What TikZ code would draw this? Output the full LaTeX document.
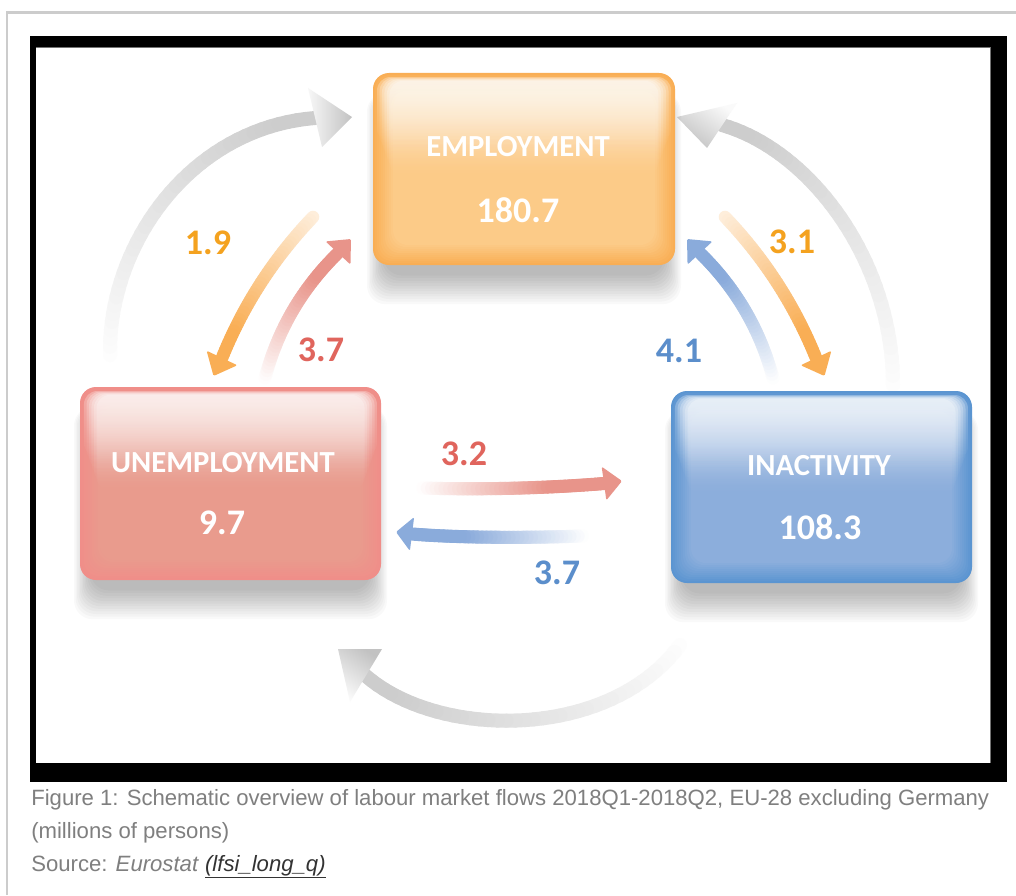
\documentclass[tikz,border=0pt]{standalone}
\usepackage{fontspec}
\setmainfont{Liberation Sans}
\newfontfamily\calfont{Carlito}
\usetikzlibrary{calc,fadings}

\definecolor{oEdge}{HTML}{F9AE55}
\definecolor{oMid}{HTML}{FCCB88}
\definecolor{rEdge}{HTML}{F08E89}
\definecolor{rMid}{HTML}{E99B8D}
\definecolor{bEdge}{HTML}{5B95D1}
\definecolor{bMid}{HTML}{8CAEDC}
\definecolor{oLab}{HTML}{F4A21F}
\definecolor{rLab}{HTML}{E0655D}
\definecolor{bLab}{HTML}{5B8ECB}
\definecolor{oArr}{HTML}{F9AE55}
\definecolor{rArr}{HTML}{E8948A}
\definecolor{bArr}{HTML}{8AABDB}
\definecolor{gArr}{HTML}{CDCDCD}
\definecolor{capgray}{HTML}{7F7F7F}
\definecolor{capdark}{HTML}{333333}
\definecolor{frameg}{HTML}{CCCCCC}

\tikzfading[name=glossfade, top color=transparent!0, bottom color=transparent!100]

% gradient shaft along a cubic curve
\newcommand\shaftgrad[8]{%
  \path (#1) .. controls (#2) and (#3) .. (#4)
    \foreach \k [evaluate=\k as \pp using \k/40] in {0,...,40} { coordinate[pos=\pp] (sg\k) };
  \foreach \k [evaluate=\k as \kn using int(\k+1)] in {0,...,39} {
    \pgfmathsetmacro\mx{min(100,#6+(100-#6)*(\k+0.5)/(40*#8))}
    \draw[line width=#7, line cap=round, draw=#5!\mx!white] (sg\k) -- (sg\kn);
  }
}
% triangular head from base centre to tip
\newcommand\headtri[4]{%
  \fill[#3, rounded corners=1pt] (#2) -- ($(#1)!#4!90:(#2)$) -- ($(#1)!#4!-90:(#2)$) -- cycle;
}
% glossy box
\newcommand\glossbox[6]{%
  \foreach \i in {1,...,12}{
    \fill[black, opacity=0.024, rounded corners=14pt] (#2+12-\i*1.5, #3+20) rectangle (#4-12+\i*1.5, #5+8+\i*2.6);
  }
  \node[draw=none, fill=#6Edge, rounded corners=12pt, minimum width=(#4-#2)*0.75pt,
        minimum height=(#5-#3)*0.75pt, inner sep=0pt, outer sep=0pt] (#1) at ({(#2+#4)/2},{(#3+#5)/2}) {};
  \foreach \i in {1,...,10}{
    \pgfmathsetmacro\mx{\i*10}
    \fill[#6Mid!\mx!#6Edge, rounded corners=11pt] (#2+\i*2, #3+\i*2) rectangle (#4-\i*2, #5-\i*2);
  }
  \foreach \j in {0,...,5}{
    \fill[white, opacity=0.27, path fading=glossfade, rounded corners=10pt]
      (#2+4+\j*2.5, #3+4+\j*0.8) rectangle (#4-4-\j*2.5, {#3+(#5-#3)*(0.36+\j*0.035)});
  }
}

\begin{document}
\begin{tikzpicture}[x=0.75pt,y=-0.75pt,
  boxtitle/.style={text=white, font=\calfont\bfseries\fontsize{23}{27}\selectfont, inner sep=0pt},
  boxnum/.style={text=white, font=\calfont\bfseries\fontsize{27}{32}\selectfont, inner sep=0pt},
  flowlab/.style={font=\calfont\bfseries\fontsize{27}{32}\selectfont, inner sep=0pt},
  captxt/.style={text=capgray, font=\fontsize{16.6}{20}\selectfont, anchor=base west, inner sep=0pt}
]
\useasboundingbox (0,0) rectangle (1016,895);
\fill[white] (0,0) rectangle (1016,895);

% outer page frame
\draw[frameg, line width=1.9pt] (7,895) -- (7,12.5) -- (1016,12.5);

% black frame
\fill[black] (30,36) rectangle (1007,782);
\fill[white] (36,48) rectangle (990,763);
\draw[black!55, line width=0.75pt] (36,48) -- (990,48) -- (990,763);

% ---------- big grey cycle arrows ----------
\coordinate (gs1) at (110,355); \coordinate (gc1a) at (108,245); \coordinate (gc1b) at (190,128); \coordinate (gb1) at (315,118);
\coordinate (gh1a) at (308,88); \coordinate (gh1t) at (352,117); \coordinate (gh1b) at (322,147);
\shaftgrad{gs1}{gc1a}{gc1b}{gb1}{gArr}{3}{10.5pt}{0.9}
\shade[left color=black!3, right color=black!24] (gh1a) -- (gh1t) -- (gh1b) -- cycle;

\coordinate (gs2) at (893,385); \coordinate (gc2a) at (893,260); \coordinate (gc2b) at (810,150); \coordinate (gb2) at (722,125);
\coordinate (gh2a) at (737,103); \coordinate (gh2t) at (677,117); \coordinate (gh2b) at (707,148);
\shaftgrad{gs2}{gc2a}{gc2b}{gb2}{gArr}{3}{10.5pt}{0.9}
\shade[top color=black!2, bottom color=black!24, shading angle=-35] (gh2a) -- (gh2t) -- (gh2b) -- cycle;

\coordinate (gs3) at (680,645); \coordinate (gc3a) at (610,740); \coordinate (gc3b) at (440,740); \coordinate (gb3) at (366,676);
\coordinate (gh3a) at (382,649); \coordinate (gh3t) at (338,649); \coordinate (gh3b) at (350,702);
\shaftgrad{gs3}{gc3a}{gc3b}{gb3}{gArr}{3}{10.5pt}{0.9}
\shade[top color=black!24, bottom color=black!2, shading angle=-35] (gh3a) -- (gh3t) -- (gh3b) -- cycle;

% ---------- boxes ----------
\glossbox{emp}{373}{73}{675}{265}{o}
\glossbox{unemp}{80}{387}{381}{580}{r}
\glossbox{inact}{671}{391}{972}{583}{b}

\node[boxtitle] (empT) at (518,147) {EMPLOYMENT};
\node[boxnum] (empN) at (518,210) {180.7};
\node[boxtitle] (unempT) at (223,463) {UNEMPLOYMENT};
\node[boxnum] (unempN) at (222,523) {9.7};
\node[boxtitle] (inactT) at (819,466) {INACTIVITY};
\node[boxnum] (inactN) at (820,527) {108.3};

% ---------- flow arrows ----------
% E -> U  (1.9)
\coordinate (s19) at (313,217); \coordinate (c19a) at (273.7,258.2); \coordinate (c19b) at (243.3,305.2);
\coordinate (b19) at (222,358); \coordinate (t19) at (213.5,376);
\shaftgrad{s19}{c19a}{c19b}{b19}{oArr}{20}{9.4pt}{0.85}
\headtri{b19}{t19}{oArr}{12.75pt}

% U -> E  (3.7)
\coordinate (s37a) at (265,378); \coordinate (c37a1) at (277.8,329.6); \coordinate (c37a2) at (302.2,288);
\coordinate (b37a) at (338,253); \coordinate (t37a) at (351,239);
\shaftgrad{s37a}{c37a1}{c37a2}{b37a}{rArr}{0}{9.4pt}{0.8}
\headtri{b37a}{t37a}{rArr}{12.75pt}

% E -> I  (3.1)
\coordinate (s31) at (725,217); \coordinate (c31a) at (764.3,258.2); \coordinate (c31b) at (794.7,305.2);
\coordinate (b31) at (816,358); \coordinate (t31) at (824.5,376);
\shaftgrad{s31}{c31a}{c31b}{b31}{oArr}{20}{9.4pt}{0.85}
\headtri{b31}{t31}{oArr}{12.75pt}

% I -> E  (4.1)
\coordinate (s41) at (773,378); \coordinate (c41a) at (760.2,329.6); \coordinate (c41b) at (735.8,288);
\coordinate (b41) at (700,253); \coordinate (t41) at (687,239);
\shaftgrad{s41}{c41a}{c41b}{b41}{bArr}{0}{9.4pt}{0.8}
\headtri{b41}{t41}{bArr}{12.75pt}

% U -> I  (3.2)
\coordinate (s32) at (423,488); \coordinate (c32a) at (480,490); \coordinate (c32b) at (550,488);
\coordinate (b32) at (604,483.5); \coordinate (t32) at (622,481);
\shaftgrad{s32}{c32a}{c32b}{b32}{rArr}{0}{9.8pt}{0.7}
\headtri{b32}{t32}{rArr}{12.75pt}

% I -> U  (3.7)
\coordinate (s37b) at (582,536); \coordinate (c37b1) at (530,538); \coordinate (c37b2) at (460,538);
\coordinate (b37b) at (412,534); \coordinate (t37b) at (396,532);
\shaftgrad{s37b}{c37b1}{c37b2}{b37b}{bArr}{0}{9.8pt}{0.7}
\headtri{b37b}{t37b}{bArr}{12.75pt}

% ---------- flow labels ----------
\node[flowlab, text=oLab] (l19) at (208,243) {1.9};
\node[flowlab, text=rLab] (l37a) at (321,350) {3.7};
\node[flowlab, text=oLab] (l31) at (792,242) {3.1};
\node[flowlab, text=bLab] (l41) at (679,351) {4.1};
\node[flowlab, text=rLab] (l32) at (464,454) {3.2};
\node[flowlab, text=bLab] (l37b) at (557,573) {3.7};

% ---------- caption ----------
\node[captxt] (cap1) at (31,805) {Figure 1: Schematic overview of labour market flows 2018Q1-2018Q2, EU-28 excluding Germany};
\node[captxt] (cap2) at (31,838) {(millions of persons)};
\node[captxt] (cap3) at (31,871) {Source: \textit{Eurostat} \textcolor{capdark}{\underline{\textit{(lfsi\_long\_q)}}}};
\end{tikzpicture}
\end{document}
